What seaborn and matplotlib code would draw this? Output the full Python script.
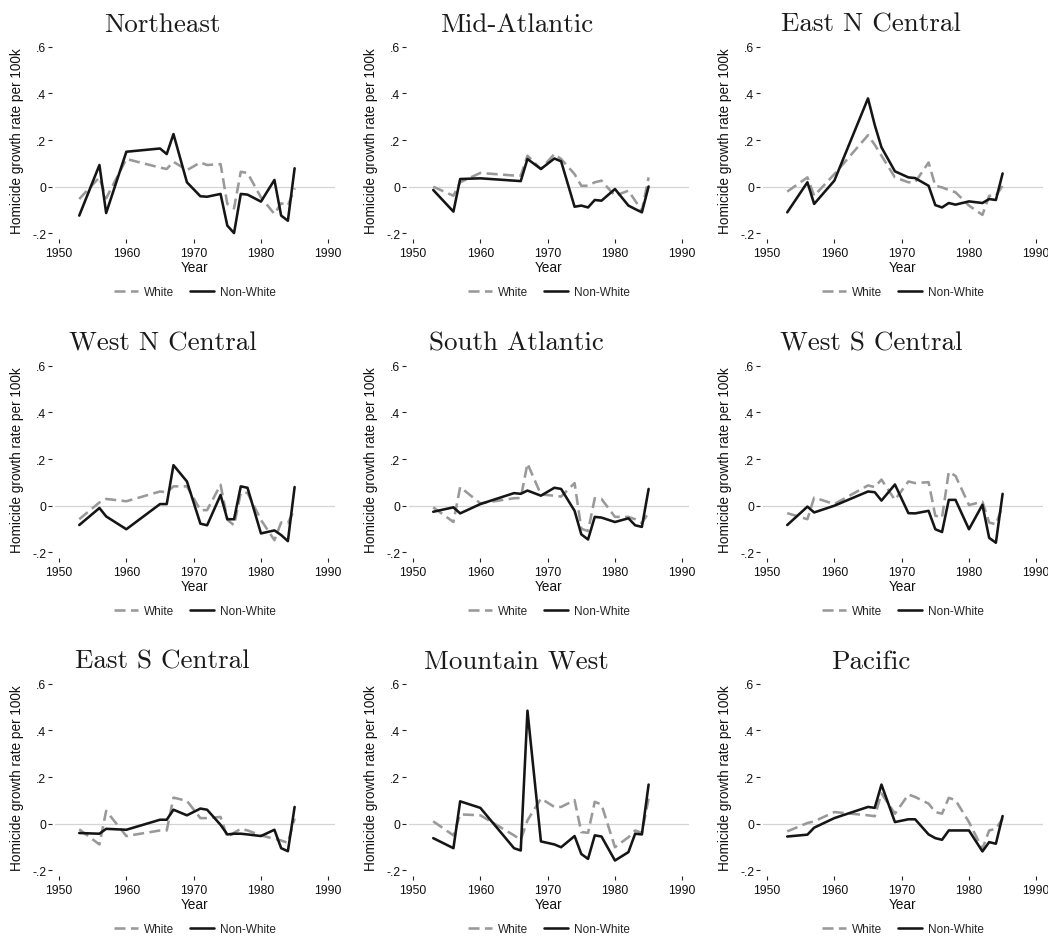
import pandas as pd
import matplotlib
matplotlib.use("Agg")
import matplotlib.pyplot as plt
import seaborn as sns

# observation years shared by every region
years = [1953, 1956, 1957, 1960, 1965, 1966, 1967, 1969, 1971, 1972,
         1974, 1975, 1976, 1977, 1978, 1980, 1982, 1983, 1984, 1985]

regions = ["Northeast", "Mid-Atlantic", "East N Central",
           "West N Central", "South Atlantic", "West S Central",
           "East S Central", "Mountain West", "Pacific"]

white_northeast = [-0.053, 0.040, -0.050, 0.119, 0.082, 0.076, 0.107, 0.071, 0.104, 0.093,
                   0.097, -0.074, -0.093, 0.064, 0.059, -0.046, -0.117, -0.071, -0.081, -0.007]
nonwhite_northeast = [-0.124, 0.093, -0.113, 0.150, 0.164, 0.140, 0.226, 0.019, -0.041, -0.043,
                      -0.031, -0.167, -0.199, -0.031, -0.034, -0.064, 0.029, -0.124, -0.146, 0.079]

white_midatl = [0.000, -0.039, 0.019, 0.059, 0.048, 0.047, 0.133, 0.076, 0.140, 0.119,
                0.054, 0.004, 0.004, 0.019, 0.026, -0.039, -0.017, -0.060, -0.103, 0.040]
nonwhite_midatl = [-0.014, -0.107, 0.033, 0.036, 0.026, 0.024, 0.119, 0.076, 0.121, 0.109,
                   -0.086, -0.081, -0.089, -0.057, -0.060, -0.010, -0.081, -0.096, -0.110, 0.001]

white_encentral = [-0.021, 0.040, -0.039, 0.054, 0.221, 0.180, 0.133, 0.040, 0.019, 0.019,
                   0.104, 0.004, -0.003, -0.014, -0.024, -0.081, -0.121, -0.039, -0.039, 0.004]
nonwhite_encentral = [-0.110, 0.019, -0.074, 0.026, 0.379, 0.265, 0.169, 0.066, 0.040, 0.037,
                      0.004, -0.079, -0.089, -0.070, -0.077, -0.063, -0.070, -0.053, -0.057, 0.057]

white_wncentral = [-0.058, 0.014, 0.029, 0.019, 0.061, 0.058, 0.083, 0.083, -0.019, -0.019,
                   0.090, -0.060, -0.084, 0.055, 0.055, -0.061, -0.148, -0.072, -0.075, -0.014]
nonwhite_wncentral = [-0.083, -0.010, -0.046, -0.101, 0.007, 0.007, 0.174, 0.104, -0.077, -0.084,
                      0.046, -0.058, -0.058, 0.083, 0.077, -0.119, -0.106, -0.126, -0.152, 0.080]

white_satl = [-0.007, -0.070, 0.080, 0.010, 0.032, 0.033, 0.181, 0.048, 0.043, 0.039,
              0.097, -0.099, -0.109, 0.032, 0.029, -0.048, -0.048, -0.058, -0.075, -0.029]
nonwhite_satl = [-0.026, -0.007, -0.033, 0.007, 0.054, 0.051, 0.065, 0.043, 0.077, 0.072,
                 -0.022, -0.123, -0.145, -0.048, -0.051, -0.070, -0.054, -0.084, -0.091, 0.072]

white_wscentral = [-0.032, -0.058, 0.035, 0.007, 0.087, 0.080, 0.112, 0.025, 0.104, 0.097,
                   0.101, -0.043, -0.051, 0.145, 0.128, 0.003, 0.017, -0.072, -0.080, 0.000]
nonwhite_wscentral = [-0.083, -0.004, -0.029, 0.000, 0.061, 0.058, 0.022, 0.091, -0.032, -0.033,
                      -0.022, -0.101, -0.113, 0.025, 0.025, -0.101, 0.004, -0.138, -0.159, 0.051]

white_escentral = [-0.024, -0.089, 0.055, -0.053, -0.029, -0.029, 0.112, 0.098, 0.024, 0.024,
                   0.029, -0.058, -0.039, -0.022, -0.029, -0.050, -0.065, -0.072, -0.082, 0.022]
nonwhite_escentral = [-0.040, -0.043, -0.022, -0.026, 0.017, 0.017, 0.060, 0.036, 0.065, 0.060,
                      -0.005, -0.046, -0.043, -0.043, -0.046, -0.053, -0.026, -0.105, -0.118, 0.072]

white_mountain = [0.010, -0.050, 0.040, 0.036, -0.050, -0.069, 0.014, 0.108, 0.072, 0.072,
                  0.101, -0.036, -0.039, 0.094, 0.082, -0.101, -0.058, -0.029, -0.039, 0.108]
nonwhite_mountain = [-0.062, -0.105, 0.096, 0.068, -0.105, -0.115, 0.485, -0.076, -0.089, -0.101,
                     -0.053, -0.130, -0.151, -0.050, -0.055, -0.158, -0.122, -0.043, -0.046, 0.168]

white_pacific = [-0.033, 0.003, 0.010, 0.050, 0.036, 0.032, 0.130, 0.043, 0.125, 0.115,
                 0.086, 0.050, 0.043, 0.111, 0.101, 0.007, -0.108, -0.029, -0.022, 0.022]
nonwhite_pacific = [-0.055, -0.047, -0.017, 0.024, 0.072, 0.068, 0.168, 0.007, 0.019, 0.019,
                    -0.046, -0.062, -0.069, -0.029, -0.029, -0.029, -0.119, -0.079, -0.086, 0.033]

white = [white_northeast, white_midatl, white_encentral, white_wncentral, white_satl,
         white_wscentral, white_escentral, white_mountain, white_pacific]
nonwhite = [nonwhite_northeast, nonwhite_midatl, nonwhite_encentral, nonwhite_wncentral,
            nonwhite_satl, nonwhite_wscentral, nonwhite_escentral, nonwhite_mountain,
            nonwhite_pacific]

ytick_vals = [-0.2, 0, 0.2, 0.4, 0.6]
ytick_labels = ["-.2", "0", ".2", ".4", ".6"]
xtick_vals = [1950, 1960, 1970, 1980, 1990]

sns.set_style("white")
plt.rcParams["font.family"] = ["Liberation Sans", "DejaVu Sans"]

W, H = 1048, 937
fig = plt.figure(figsize=(W / 100, H / 100), dpi=100)

# panel geometry in pixels
ax_w, ax_h = 280, 193.4
col_left = [55, 409, 763]
row_bottom = [237.8, 556.8, 874.8]

for i, region in enumerate(regions):
    r, c = divmod(i, 3)
    ax = fig.add_axes([col_left[c] / W, 1 - row_bottom[r] / H, ax_w / W, ax_h / H])

    df = pd.DataFrame({"Year": years, "White": white[i], "Non-White": nonwhite[i]})
    ax.axhline(0, color="#d4d4d4", lw=0.9, zorder=0)
    sns.lineplot(data=df, x="Year", y="White", ax=ax, color="#999999", lw=1.85,
                 label="White")
    ax.lines[-1].set_dashes((4.3, 2.1))
    sns.lineplot(data=df, x="Year", y="Non-White", ax=ax, color="#151515", lw=1.85,
                 label="Non-White")

    ax.set_xlim(1949.4, 1991.0)
    ax.set_ylim(-0.215, 0.615)
    ax.set_xticks(xtick_vals)
    ax.set_yticks(ytick_vals)
    ax.set_yticklabels(ytick_labels)
    for side in ["top", "right"]:
        ax.spines[side].set_visible(False)
    ax.spines["left"].set_color("none")
    ax.spines["bottom"].set_color("none")
    ax.spines["left"].set_position(("outward", 2.5))
    ax.spines["bottom"].set_position(("outward", 1.5))
    ax.tick_params(axis="both", which="major", length=2.8, width=0.8, color="#222222",
                   labelsize=8.8, labelcolor="#111111", direction="out",
                   left=True, bottom=True)
    ax.tick_params(axis="x", pad=3)
    ax.tick_params(axis="y", pad=1)

    ax.set_xlabel("Year", fontsize=9.8, color="#111111")
    ax.set_ylabel("Homicide growth rate per 100k", fontsize=9.8, color="#111111")
    ax.xaxis.set_label_coords(0.5, -0.122)
    ax.yaxis.set_label_coords(-0.112, 0.5)

    ax.legend(loc="center", bbox_to_anchor=(0.5, -0.284), ncol=2, frameon=False,
              fontsize=8.5, handlelength=2.0, handletextpad=0.5, columnspacing=1.4)

    ax.text(0.385, 1 + (44.4 - 31.7) / ax_h, region, transform=ax.transAxes,
            ha="center", va="baseline", fontsize=19.5, family="cmr10", color="#1a1a1a")

fig.savefig("out.png", dpi=100, facecolor="white")
plt.close()
